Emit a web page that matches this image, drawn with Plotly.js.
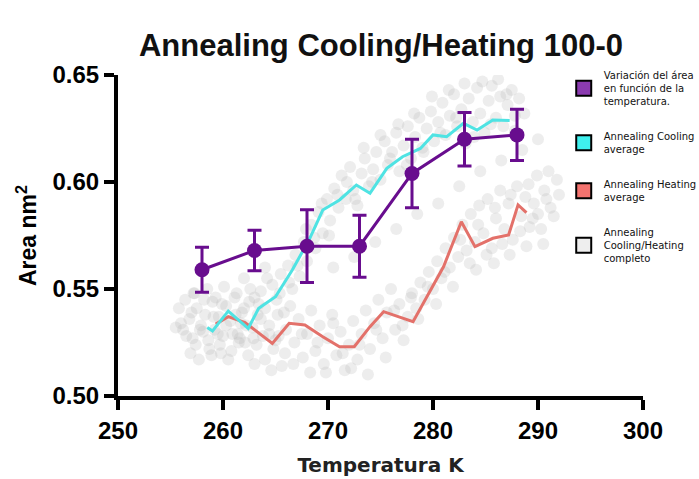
<!DOCTYPE html>
<html>
<head>
<meta charset="utf-8">
<script src="https://cdn.plot.ly/plotly-3.0.1.min.js"></script>
<style>html,body{margin:0;padding:0;background:#fff;}#chart{width:699px;height:479px;}</style>
</head>
<body>
<div id="chart"></div>
<script>
// Mean area vs temperature (purple)
const meanT = [258, 263, 268, 273, 278, 283, 288];
const meanArea = [0.559, 0.568, 0.570, 0.570, 0.604, 0.620, 0.622];
const meanErr = [0.0105, 0.0095, 0.017, 0.0145, 0.016, 0.0125, 0.012];

// Annealing cooling average (cyan)
const coolT = [258.5, 259.0, 260.5, 262.4, 263.4, 265.0, 266.6, 268.2, 269.5, 271.1, 272.7, 274.0, 275.6, 277.1, 278.8, 280.0, 281.3, 282.9, 284.2, 285.7, 287.3];
const coolArea = [0.532, 0.5304, 0.5397, 0.5316, 0.541, 0.5464, 0.5589, 0.573, 0.5869, 0.5916, 0.5986, 0.5947, 0.6064, 0.6118, 0.6157, 0.622, 0.6212, 0.6274, 0.6243, 0.629, 0.6287];

// Annealing heating average (red)
const heatT = [259.3, 260.5, 262.1, 263.4, 264.7, 266.3, 267.8, 269.5, 271.1, 272.5, 274.0, 275.3, 278.1, 281.0, 282.7, 284.0, 285.7, 287.2, 288.1, 288.9];
const heatArea = [0.5336, 0.5371, 0.5343, 0.5293, 0.5246, 0.534, 0.5332, 0.5277, 0.523, 0.523, 0.5324, 0.5394, 0.5347, 0.5604, 0.5814, 0.5698, 0.5737, 0.5752, 0.5893, 0.5857];

// Complete cooling/heating raw data (gray cloud)
const rawT = [
256.2,256.8,257.1,257.5,257.9,258.3,258.6,259.0,259.2,259.6,260.0,260.3,260.7,261.1,261.4,261.8,262.2,262.5,262.9,263.3,
263.6,264.0,264.4,264.7,265.1,265.5,265.8,266.2,266.6,266.9,267.3,267.7,268.0,268.4,268.8,269.1,269.5,269.9,270.2,270.6,
271.0,271.3,271.7,272.1,272.4,272.8,273.2,273.5,273.9,274.3,274.6,275.0,275.4,275.7,276.1,276.5,276.8,277.2,277.6,277.9,
278.3,278.7,279.0,279.4,279.8,280.1,280.5,280.9,281.2,281.6,282.0,282.3,282.7,283.1,283.4,283.8,284.2,284.5,284.9,285.3,
285.6,286.0,286.4,286.7,287.1,287.5,287.8,288.2,
256.0,256.5,257.0,257.4,257.8,258.2,258.7,259.1,259.5,259.9,260.3,260.8,261.2,261.6,262.0,262.4,262.8,263.2,263.6,264.0,
264.4,264.8,265.2,265.6,266.0,266.4,266.8,267.2,267.6,268.0,268.4,268.8,269.2,269.6,270.0,270.4,270.8,271.2,271.6,272.0,
272.4,272.8,273.2,273.6,274.0,274.4,274.8,275.2,275.6,276.0,276.4,276.8,277.2,277.6,278.0,278.4,278.8,279.2,279.6,280.0,
280.4,280.8,281.2,281.6,282.0,282.4,282.8,283.2,283.6,284.0,284.4,284.8,285.2,285.6,286.0,286.4,286.8,287.2,287.6,288.0,
288.4,288.8,289.2,289.6,290.0,290.6,291.2,
270.5,272.5,274.5,276.5,278.5,280.5,282.5,284.5,286.5,262.0,264.0,288.5,290.0,291.0,255.5,257.2,259.8,261.5,263.0,265.3,
255.8,256.4,256.9,257.3,257.7,258.1,258.5,258.9,259.3,259.7,260.1,260.5,260.9,261.3,261.7,262.1,262.6,263.0,263.4,263.8,
264.2,264.6,265.0,265.4,265.9,266.3,266.7,267.1,267.5,267.9,268.3,268.7,269.0,269.4,269.8,270.1,270.5,270.9,271.4,271.8,
272.2,272.6,273.0,273.4,273.8,274.2,274.6,275.0,275.5,275.9,276.3,276.7,277.1,277.5,277.9,278.2,278.6,279.1,279.5,279.9,
280.3,280.7,281.1,281.5,281.9,282.2,282.6,283.0,283.5,283.9,284.3,284.7,285.1,285.5,285.9,286.2,286.6,287.0,287.4,287.8,
288.3,288.7,289.1,289.5,289.9,290.3,290.8,291.5,292.0,291.8,290.5,288.9,287.3,285.8,284.1];
const rawArea = [
0.531,0.536,0.527,0.541,0.533,0.538,0.526,0.544,0.531,0.537,0.528,0.542,0.535,0.546,0.529,0.539,0.533,0.544,0.527,0.538,
0.549,0.541,0.533,0.552,0.545,0.557,0.539,0.561,0.550,0.566,0.556,0.572,0.563,0.580,0.569,0.586,0.576,0.592,0.582,0.597,
0.588,0.603,0.592,0.607,0.596,0.589,0.604,0.611,0.598,0.606,0.614,0.601,0.619,0.608,0.614,0.623,0.605,0.617,0.626,0.611,
0.621,0.630,0.616,0.625,0.633,0.619,0.628,0.637,0.622,0.631,0.641,0.626,0.634,0.618,0.639,0.628,0.644,0.632,0.623,0.638,
0.645,0.630,0.640,0.626,0.636,0.643,0.631,0.639,
0.534,0.528,0.539,0.524,0.531,0.545,0.522,0.537,0.529,0.543,0.533,0.521,0.538,0.527,0.541,0.519,0.532,0.524,0.536,0.517,
0.529,0.522,0.538,0.514,0.531,0.542,0.525,0.536,0.518,0.529,0.540,0.521,0.533,0.515,0.527,0.538,0.519,0.530,0.512,0.524,
0.535,0.517,0.529,0.540,0.522,0.534,0.545,0.527,0.539,0.550,0.531,0.543,0.526,0.537,0.548,0.541,0.553,0.545,0.558,0.550,
0.563,0.555,0.569,0.560,0.574,0.565,0.580,0.568,0.585,0.572,0.589,0.576,0.592,0.569,0.583,0.596,0.578,0.590,0.573,0.598,
0.584,0.593,0.579,0.590,0.585,0.596,0.588,
0.560,0.565,0.572,0.578,0.585,0.590,0.598,0.605,0.610,0.555,0.560,0.615,0.620,0.605,0.532,0.548,0.520,0.525,0.546,0.528,
0.541,0.545,0.520,0.548,0.517,0.530,0.550,0.519,0.546,0.524,0.551,0.517,0.529,0.548,0.534,0.525,0.550,0.515,0.543,0.528,
0.555,0.512,0.526,0.548,0.520,0.553,0.515,0.561,0.529,0.578,0.511,0.574,0.525,0.590,0.511,0.575,0.534,0.594,0.520,0.600,
0.513,0.592,0.524,0.616,0.510,0.600,0.531,0.622,0.518,0.611,0.540,0.627,0.533,0.608,0.546,0.632,0.536,0.614,0.551,0.640,
0.543,0.623,0.558,0.643,0.551,0.630,0.573,0.646,0.562,0.621,0.580,0.647,0.566,0.627,0.588,0.648,0.571,0.641,0.594,0.624,
0.577,0.632,0.599,0.583,0.603,0.578,0.592,0.584,0.594,0.601,0.571,0.570,0.566,0.562,0.559];

const legendNames = [
  'Variación del área<br>en función de la<br>temperatura.',
  'Annealing Cooling<br>average',
  'Annealing Heating<br>average',
  'Annealing<br>Cooling/Heating<br>completo'
];
const legendColors = ['#8b3bb0', '#3ff0ee', '#f4736f', '#eeeeee'];

const traces = [
  {x: rawT, y: rawArea, type: 'scatter', mode: 'markers', showlegend: false, hoverinfo: 'skip',
   marker: {size: 12, color: 'rgba(185,185,185,0.26)'}},
  {x: heatT, y: heatArea, type: 'scatter', mode: 'lines', showlegend: false,
   line: {color: '#e3716a', width: 3}},
  {x: coolT, y: coolArea, type: 'scatter', mode: 'lines', showlegend: false,
   line: {color: '#4fe3e3', width: 3}},
  {x: meanT, y: meanArea, type: 'scatter', mode: 'lines+markers', showlegend: false,
   line: {color: '#680d8e', width: 3}, marker: {size: 15, color: '#680d8e'},
   error_y: {type: 'data', array: meanErr, visible: true, color: '#680d8e', thickness: 3, width: 7}}
];
legendNames.forEach((n, i) => {
  traces.push({x: [null], y: [null], type: 'scatter', mode: 'markers', name: n, legendgroup: 'g' + i,
    marker: {symbol: 'square', size: 15, color: legendColors[i], line: {color: '#000', width: 2}}});
});

const AX = {family: "'Liberation Sans', Arial, sans-serif", size: 24, weight: 'bold', color: '#000'};

const layout = {
  width: 699, height: 479,
  margin: {l: 118, r: 56, t: 75, b: 83, autoexpand: false},
  paper_bgcolor: '#fff', plot_bgcolor: '#fff',
  font: {family: "'Liberation Sans', Arial, sans-serif", color: '#000'},
  title: {text: 'Annealing Cooling/Heating 100-0',
          font: {family: "'Liberation Sans', Arial, sans-serif", size: 31, weight: 'bold', color: '#111'},
          x: 0.545, xanchor: 'center', y: 0.905, yanchor: 'middle', yref: 'container'},
  xaxis: {range: [250, 300], tickvals: [250, 260, 270, 280, 290, 300],
          showline: true, linecolor: '#000', linewidth: 4, showgrid: false, zeroline: false,
          ticks: 'outside', ticklen: 10, tickwidth: 3.5, tickcolor: '#000',
          tickfont: AX,
          title: {text: 'Temperatura K', font: {family: "'DejaVu Sans', sans-serif", size: 20, weight: 'bold', color: '#222'}, standoff: 16}},
  yaxis: {range: [0.5, 0.65], tickvals: [0.5, 0.55, 0.6, 0.65], ticktext: ['0.50', '0.55', '0.60', '0.65'],
          showline: true, linecolor: '#000', linewidth: 4, showgrid: false, zeroline: false,
          ticks: 'outside', ticklen: 10, tickwidth: 3.5, tickcolor: '#000',
          tickfont: AX,
          title: {text: 'Area nm<sup>2</sup>', font: {family: "'Liberation Sans', Arial, sans-serif", size: 23, weight: 'bold'}, standoff: 10}},
  legend: {x: 0.849, xanchor: 'left', y: 1.04, yanchor: 'top', bgcolor: 'rgba(0,0,0,0)',
           font: {size: 10, family: "'DejaVu Sans', sans-serif", color: '#111'},
           tracegroupgap: 19, traceorder: 'grouped', itemwidth: 30},
  showlegend: true
};

Plotly.newPlot('chart', traces, layout, {displayModeBar: false, staticPlot: true});
</script>
</body>
</html>
